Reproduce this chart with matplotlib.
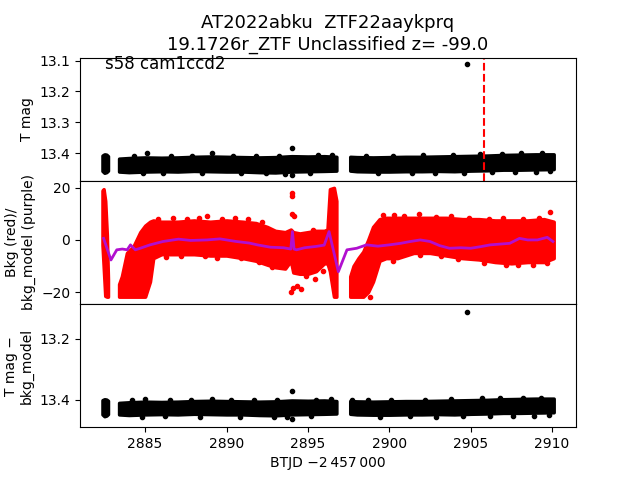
import matplotlib.pyplot as plt
from matplotlib.ticker import MultipleLocator

# light curve of AT2022abku
# the dense bands are kept as (time, lower, upper) envelopes per segment

# segment start/end in BTJD
seg_a_t = [2882.38, 2882.50, 2882.62, 2882.72]
seg_b_t = [2883.40, 2884.0, 2885.0, 2886.0, 2887.0, 2888.0, 2889.0, 2890.0,
           2891.0, 2892.0, 2893.0, 2894.0, 2895.0, 2896.0, 2896.75]
seg_c_t = [2897.60, 2898.0, 2899.0, 2900.0, 2901.0, 2902.0, 2903.0, 2904.0,
           2905.0, 2906.0, 2907.0, 2908.0, 2909.0, 2910.1]

# T mag band (top panel)
tmag_a_lo = [13.408, 13.404, 13.405, 13.410]
tmag_a_hi = [13.458, 13.464, 13.462, 13.457]
tmag_b_lo = [13.418, 13.416, 13.414, 13.415, 13.414, 13.412, 13.411, 13.412,
             13.413, 13.414, 13.413, 13.410, 13.411, 13.410, 13.412]
tmag_b_hi = [13.460, 13.462, 13.460, 13.459, 13.460, 13.458, 13.459, 13.460,
             13.460, 13.462, 13.463, 13.460, 13.459, 13.458, 13.457]
tmag_c_lo = [13.412, 13.413, 13.414, 13.413, 13.412, 13.412, 13.411, 13.410,
             13.409, 13.408, 13.406, 13.405, 13.404, 13.404]
tmag_c_hi = [13.457, 13.459, 13.460, 13.460, 13.459, 13.459, 13.458, 13.459,
             13.457, 13.456, 13.454, 13.454, 13.453, 13.452]
tmag_out_t = [2904.78, 2894.00, 2894.03, 2885.10, 2889.10,
              2884.3, 2886.6, 2887.9, 2890.4, 2891.8, 2893.2, 2895.6, 2896.5,
              2898.6, 2900.2, 2902.1, 2903.9, 2905.6, 2906.9, 2908.1, 2909.4,
              2884.9, 2886.1, 2888.5, 2890.9, 2892.4, 2893.6, 2895.1, 2899.3,
              2901.4, 2902.8, 2904.6, 2906.3, 2907.7, 2909.0, 2909.9]
tmag_out_v = [13.110, 13.383, 13.470, 13.399, 13.401,
              13.410, 13.409, 13.408, 13.408, 13.409, 13.409, 13.407, 13.406,
              13.408, 13.408, 13.407, 13.406, 13.403, 13.402, 13.401, 13.401,
              13.465, 13.464, 13.465, 13.466, 13.466, 13.467, 13.464, 13.465,
              13.464, 13.465, 13.464, 13.462, 13.463, 13.461, 13.459]

# T mag - bkg_model band (bottom panel)
diff_a_lo = [13.401, 13.398, 13.399, 13.403]
diff_a_hi = [13.448, 13.454, 13.452, 13.447]
diff_b_lo = [13.410, 13.408, 13.406, 13.407, 13.406, 13.404, 13.403, 13.404,
             13.405, 13.406, 13.405, 13.402, 13.403, 13.402, 13.404]
diff_b_hi = [13.448, 13.450, 13.448, 13.447, 13.448, 13.446, 13.447, 13.448,
             13.448, 13.450, 13.451, 13.448, 13.447, 13.446, 13.445]
diff_c_lo = [13.404, 13.405, 13.406, 13.405, 13.404, 13.404, 13.403, 13.402,
             13.401, 13.400, 13.398, 13.397, 13.396, 13.396]
diff_c_hi = [13.446, 13.448, 13.449, 13.449, 13.448, 13.448, 13.447, 13.448,
             13.446, 13.445, 13.443, 13.443, 13.442, 13.441]
diff_out_t = [2904.76, 2894.00, 2894.03, 2885.00, 2889.10, 2897.70,
              2884.2, 2886.5, 2887.8, 2890.3, 2891.7, 2893.1, 2895.5, 2896.4,
              2898.7, 2900.1, 2902.2, 2903.8, 2905.7, 2906.8, 2908.2, 2909.3,
              2884.8, 2886.2, 2888.4, 2890.8, 2892.9, 2893.7, 2895.2, 2899.4,
              2901.3, 2902.9, 2904.5, 2906.2, 2907.6, 2908.9, 2909.8]
diff_out_v = [13.110, 13.371, 13.463, 13.397, 13.397, 13.399,
              13.402, 13.401, 13.400, 13.400, 13.401, 13.402, 13.399, 13.398,
              13.401, 13.400, 13.399, 13.398, 13.395, 13.394, 13.393, 13.394,
              13.455, 13.454, 13.455, 13.456, 13.457, 13.456, 13.454, 13.455,
              13.454, 13.455, 13.454, 13.453, 13.454, 13.452, 13.450]

# background (red) envelope, middle panel
bkg_a_t = [2882.38, 2882.45, 2882.55, 2882.65, 2882.72]
bkg_a_lo = [-2.0, -10.0, -21.5, -21.8, -21.8]
bkg_a_hi = [19.0, 19.5, 15.0, 2.0, -15.0]
bkg_b_t = [2883.40, 2883.57, 2883.88, 2884.28, 2884.70, 2885.00, 2885.30, 2885.50,
           2886.0, 2887.0, 2888.0, 2889.0, 2890.0, 2891.0, 2891.8, 2892.5, 2893.0,
           2893.6, 2893.95, 2894.1, 2894.5, 2895.0, 2895.5, 2896.0, 2896.2,
           2896.35, 2896.6, 2896.75]
bkg_b_lo = [-21.8, -21.8, -21.8, -21.8, -21.8, -21.8, -16.0, -7.0, -5.5, -5.5,
            -5.5, -6.0, -6.0, -7.0, -8.0, -9.5, -10.5, -11.0, -8.0, -12.5, -13.0,
            -13.0, -12.0, -9.0, -9.0, -12.0, -21.8, -21.8]
bkg_b_hi = [-17.0, -14.0, -5.0, -2.5, 3.0, 5.5, 7.0, 7.5, 7.0, 7.0, 7.5, 7.0,
            7.5, 7.0, 6.5, 5.0, 3.5, 3.0, 4.0, 3.0, 2.5, 3.0, 3.5, 3.5, 4.0,
            19.5, 20.0, 15.0]
bkg_c_t = [2897.60, 2897.80, 2898.10, 2898.40, 2898.70, 2899.00, 2899.40, 2899.80,
           2900.5, 2901.5, 2902.5, 2903.5, 2904.5, 2905.5, 2906.5, 2907.5,
           2908.5, 2909.5, 2910.1]
bkg_c_lo = [-21.8, -21.8, -21.8, -21.8, -20.0, -16.0, -8.0, -7.0, -7.0, -5.0,
            -5.0, -6.0, -7.0, -7.5, -8.5, -9.0, -8.5, -8.5, -7.0]
bkg_c_hi = [-14.0, -10.0, -7.0, -4.5, 0.0, 5.0, 8.0, 8.5, 8.5, 8.5, 8.5, 8.5,
            8.0, 8.0, 7.5, 7.5, 7.5, 8.0, 7.0]
bkg_out_t = [2894.00, 2894.00, 2894.05, 2894.15, 2894.10, 2893.95, 2894.30,
             2894.60, 2895.45, 2898.80, 2888.80, 2899.60, 2900.30, 2901.80,
             2909.90,
             2885.8, 2886.7, 2887.6, 2888.3, 2889.7, 2890.5, 2891.3, 2892.2,
             2895.3, 2900.9, 2902.9, 2903.8, 2904.9, 2906.1, 2907.0, 2908.2,
             2909.2,
             2886.3, 2887.2, 2888.7, 2889.4, 2890.9, 2892.0, 2892.8, 2894.9,
             2895.9, 2900.2, 2901.9, 2903.2, 2904.2, 2905.8, 2907.2, 2907.9,
             2908.8, 2909.7]
bkg_out_v = [18.0, 16.8, 10.0, 9.0, -18.5, -20.0, -17.5, -19.0, -15.0, -22.0,
             9.0, 9.5, 9.5, 10.0, 10.8,
             8.0, 8.3, 8.0, 8.5, 8.2, 8.3, 8.0, 7.0,
             4.0, 9.0, 8.8, 9.0, 8.4, 8.2, 8.4, 8.0,
             8.5,
             -6.5, -6.3, -6.0, -6.8, -7.0, -8.5, -10.5, -14.0,
             -12.0, -8.0, -5.8, -6.3, -7.5, -8.7, -9.8, -9.5,
             -9.5, -9.0]

# bkg_model (purple)
model_t = [2882.45, 2882.90, 2883.26, 2883.60, 2883.90, 2884.10, 2884.40, 2884.70,
           2885.30, 2886.10, 2887.05, 2887.80, 2888.80, 2889.60, 2890.60, 2891.40,
           2891.90, 2892.70, 2893.50, 2893.95, 2894.05, 2894.15, 2894.30, 2894.80,
           2895.50, 2896.00, 2896.30, 2896.87, 2897.40, 2898.00, 2898.60, 2899.30,
           2900.00, 2900.70, 2901.30, 2901.90, 2902.50, 2903.10, 2903.70, 2904.40,
           2905.00, 2905.60, 2906.20, 2906.80, 2907.40, 2908.00, 2908.50, 2909.10,
           2909.70, 2910.05]
model_v = [0.6, -7.7, -3.8, -3.5, -3.8, -1.9, -3.8, -3.2, -1.9, -0.6, 0.3, -0.2,
           0.0, 0.4, -0.6, -1.2, -1.9, -2.8, -3.0, -3.5, 3.2, -3.5, -3.8, -3.0,
           -2.5, -2.0, 3.2, -12.2, -3.8, -3.2, -1.9, -2.4, -1.9, -1.3, -0.6, 0.0,
           -0.6, -2.2, -3.2, -3.0, -3.2, -2.6, -1.9, -1.6, -1.3, 0.6, 0.0, 0.0,
           1.0, -0.6]

fig, (ax1, ax2, ax3) = plt.subplots(3, 1, sharex=True, figsize=(6.4, 4.8), dpi=100)
plt.subplots_adjust(hspace=0)

segs = [seg_a_t, seg_b_t, seg_c_t]
for t, lo, hi in zip(segs, [tmag_a_lo, tmag_b_lo, tmag_c_lo], [tmag_a_hi, tmag_b_hi, tmag_c_hi]):
    ax1.fill_between(t, lo, hi, color='k', lw=2.5)
ax1.plot(tmag_out_t, tmag_out_v, 'k.')
ax1.axvline(2905.82, color='r', ls='--', lw=1.5)
ax1.set_ylim(13.49, 13.09)
ax1.yaxis.set_major_locator(MultipleLocator(0.1))
ax1.set_ylabel('T mag')
ax1.text(0.05, 0.91, 's58 cam1ccd2', transform=ax1.transAxes, fontsize=12)
ax1.set_title('AT2022abku  ZTF22aaykprq\n19.1726r_ZTF Unclassified z= -99.0', fontsize=13)

for t, lo, hi in zip([bkg_a_t, bkg_b_t, bkg_c_t], [bkg_a_lo, bkg_b_lo, bkg_c_lo],
                     [bkg_a_hi, bkg_b_hi, bkg_c_hi]):
    ax2.fill_between(t, lo, hi, color='r', lw=2.5)
ax2.plot(bkg_out_t, bkg_out_v, 'r.')
ax2.plot(model_t, model_v, color='#b10fcf', lw=2)
ax2.set_ylim(-24.6, 22.7)
ax2.set_ylabel('Bkg (red)/\nbkg_model (purple)')

for t, lo, hi in zip(segs, [diff_a_lo, diff_b_lo, diff_c_lo], [diff_a_hi, diff_b_hi, diff_c_hi]):
    ax3.fill_between(t, lo, hi, color='k', lw=2.5)
ax3.plot(diff_out_t, diff_out_v, 'k.')
ax3.set_ylim(13.49, 13.085)
ax3.set_ylabel('T mag \u2212\nbkg_model')
ax3.set_xlim(2881.0, 2911.47)
ax3.set_xlabel('BTJD \u22122\u2009457\u2009000')

plt.savefig('out.png')
